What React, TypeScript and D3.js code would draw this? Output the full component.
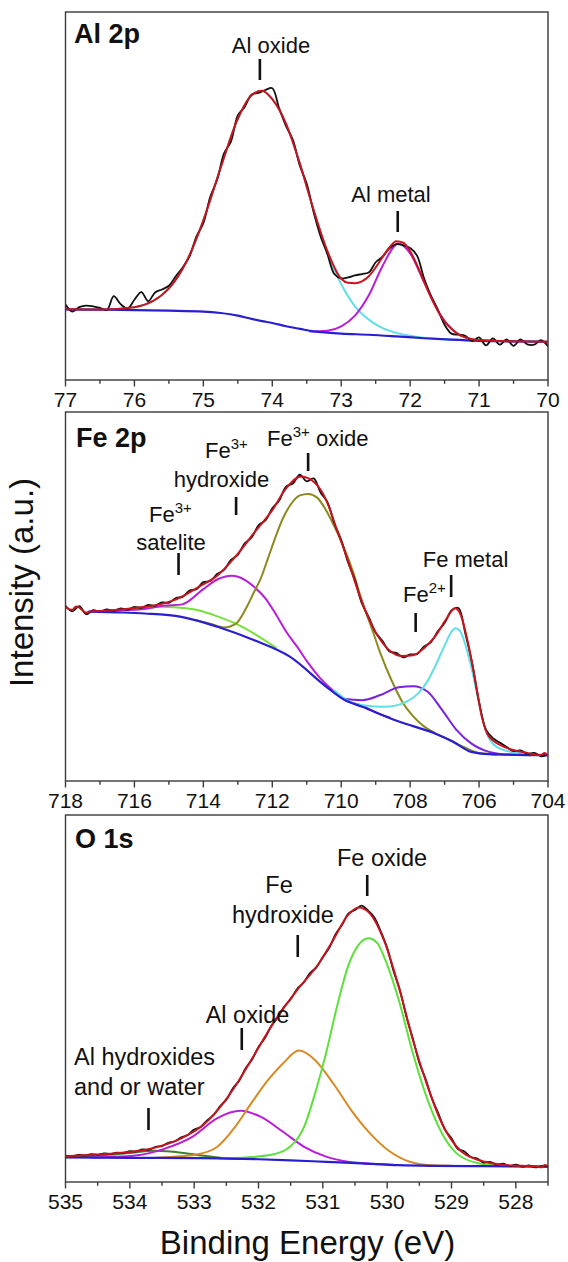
import React from "react";
import * as d3 from "d3";

type Pt = [number, number];

// ---------------- Al 2p ----------------
const alMajorTicks = [77, 76, 75, 74, 73, 72, 71, 70];
const alMinorTicks = [76.5, 75.5, 74.5, 73.5, 72.5, 71.5, 70.5];
const alData: Pt[] = [
  [77.0, 20.5], [76.9, 18.6], [76.8, 19.8], [76.7, 20.2], [76.6, 20.0], [76.5, 19.6], [76.4, 19.0], [76.3, 22.8],
  [76.2, 20.6], [76.1, 19.4], [76.0, 21.8], [75.9, 23.9], [75.8, 21.4], [75.7, 23.8], [75.6, 24.6], [75.5, 25.6],
  [75.4, 28.2], [75.3, 30.6], [75.2, 33.6], [75.1, 39.0], [75.0, 42.6], [74.9, 49.8], [74.8, 54.4], [74.7, 61.6],
  [74.6, 64.8], [74.5, 71.9], [74.4, 74.2], [74.3, 77.6], [74.2, 78.0], [74.1, 78.8], [74.0, 79.3], [73.9, 73.8],
  [73.8, 69.0], [73.7, 65.2], [73.6, 58.2], [73.5, 53.3], [73.4, 45.6], [73.3, 39.1], [73.2, 34.2], [73.1, 28.8],
  [73.0, 27.6], [72.9, 27.9], [72.8, 28.4], [72.7, 28.8], [72.6, 29.2], [72.5, 32.0], [72.4, 33.5], [72.3, 35.8],
  [72.2, 36.9], [72.1, 36.6], [72.0, 35.9], [71.9, 33.8], [71.8, 27.7], [71.7, 23.0], [71.6, 19.2], [71.5, 15.0],
  [71.4, 12.6], [71.3, 12.3], [71.2, 12.0], [71.1, 10.6], [71.0, 11.6], [70.9, 9.4], [70.8, 11.3], [70.7, 9.6],
  [70.6, 11.0], [70.5, 9.3], [70.4, 11.0], [70.3, 9.7], [70.2, 9.6], [70.1, 10.8], [70.0, 9.2],
];
const alEnvelope: Pt[] = [
  [77, 19.2], [76.5, 19.15], [76, 19.8], [75.5, 24.9], [75.25, 32.0], [75, 43.4], [74.75, 57.6], [74.5, 71.0],
  [74.3, 77.4], [74.15, 78.6], [74, 76.3], [73.8, 69.6], [73.6, 58.8], [73.4, 46.2], [73.2, 35.0], [73.0, 27.5],
  [72.9, 26.4], [72.8, 26.3], [72.7, 26.8], [72.6, 28.2], [72.5, 30.6], [72.4, 33.4], [72.3, 36.0], [72.2, 37.7],
  [72.1, 37.3], [72.0, 35.0], [71.9, 31.2], [71.8, 26.8], [71.7, 22.6], [71.6, 18.9], [71.5, 15.9], [71.4, 13.9],
  [71.3, 12.4], [71.2, 11.6], [71.1, 11.1], [71.0, 10.8], [70.5, 10.5], [70.0, 10.4],
];
const alBackground: Pt[] = [
  [77, 19.2], [76.5, 19.1], [76, 19.0], [75.5, 18.85], [75, 18.6], [74.75, 18.2], [74.5, 17.5], [74.3, 16.6],
  [74.15, 16.0], [74, 15.5], [73.8, 14.6], [73.6, 13.9], [73.4, 13.2], [73.2, 12.85], [73, 12.6], [72.6, 12.3],
  [72.2, 11.85], [71.8, 11.35], [71.4, 10.95], [71, 10.65], [70.5, 10.5], [70, 10.4],
];
const alOxidePeak: Pt[] = [
  [77, 19.2], [76.5, 19.15], [76, 19.8], [75.5, 24.9], [75.25, 32.0], [75, 43.4], [74.75, 57.6], [74.5, 71.0],
  [74.3, 77.4], [74.15, 78.6], [74, 76.3], [73.8, 69.6], [73.6, 58.8], [73.4, 46.1], [73.2, 34.5], [73, 26.0],
  [72.8, 20.0], [72.6, 16.4], [72.4, 14.1], [72.2, 12.8], [72, 12.0], [71.8, 11.5], [71.5, 11.1], [71, 10.7],
  [70.5, 10.5], [70, 10.4],
];
const alMetalPeak: Pt[] = [
  [73.45, 13.2], [73.2, 13.4], [73.0, 14.6], [72.8, 17.5], [72.6, 23.0], [72.4, 31.0], [72.17, 37.1], [72.0, 34.4],
  [71.8, 26.7], [71.6, 18.9], [71.4, 13.9], [71.2, 11.6], [71.0, 10.8], [70.5, 10.5],
];

// ---------------- Fe 2p ----------------
const feMajorTicks = [718, 716, 714, 712, 710, 708, 706, 704];
const feMinorTicks = [717, 715, 713, 711, 709, 707, 705];
const feData: Pt[] = [
  [718.0, 47.5], [717.8, 46.0], [717.6, 47.4], [717.4, 45.2], [717.2, 46.3], [717.0, 45.9], [716.8, 46.5], [716.6, 46.1],
  [716.4, 46.8], [716.2, 46.4], [716.0, 47.2], [715.8, 46.9], [715.6, 47.7], [715.4, 47.5], [715.2, 48.4], [715.0, 48.3],
  [714.8, 49.6], [714.6, 49.9], [714.4, 51.6], [714.2, 52.0], [714.0, 53.9], [713.8, 54.2], [713.6, 56.1], [713.4, 57.2],
  [713.2, 59.9], [713.0, 61.3], [712.8, 64.4], [712.6, 66.0], [712.4, 69.3], [712.2, 70.6], [712.0, 73.9], [711.8, 76.0],
  [711.6, 79.8], [711.4, 80.6], [711.2, 83.0], [711.0, 81.2], [710.8, 82.0], [710.6, 78.2], [710.4, 75.6], [710.2, 69.8],
  [710.0, 65.3], [709.8, 59.2], [709.6, 54.4], [709.4, 48.1], [709.2, 44.4], [709.0, 40.2], [708.8, 37.9], [708.6, 35.1],
  [708.4, 34.7], [708.2, 33.5], [708.0, 34.3], [707.8, 34.4], [707.6, 36.4], [707.4, 37.6], [707.2, 40.5], [707.0, 42.8],
  [706.8, 46.2], [706.6, 46.9], [706.4, 40.0], [706.2, 31.9], [706.0, 21.4], [705.8, 13.9], [705.6, 11.6], [705.4, 10.4],
  [705.2, 9.2], [705.0, 8.1], [704.8, 8.3], [704.6, 7.4], [704.4, 7.6], [704.2, 6.7], [704.0, 7.1],
];
const feEnvelope: Pt[] = [
  [718.0, 47.2], [717.9, 46.6], [717.8, 46.4], [717.7, 47.3], [717.6, 47.0], [717.5, 46.2], [717.4, 45.6], [717.3, 45.9],
  [717.0, 46.1], [716.4, 46.5], [715.7, 47.2], [715.2, 48.0], [714.85, 49.0], [714.5, 50.6], [714.12, 52.7], [713.59, 55.7],
  [713.07, 60.8], [712.54, 67.1], [712.0, 73.4], [711.6, 79.3], [711.17, 82.5], [710.75, 80.7], [710.44, 76.2], [710.12, 68.0],
  [709.81, 59.9], [709.49, 50.9], [709.18, 43.6], [708.86, 38.2], [708.55, 35.0], [708.23, 33.9], [707.91, 34.1], [707.6, 36.0],
  [707.28, 39.1], [706.97, 43.6], [706.7, 46.8], [706.55, 45.4], [706.34, 38.2], [706.13, 28.3], [705.92, 17.4], [705.71, 12.0],
  [705.18, 8.9], [704.66, 7.7], [704.2, 7.0], [704.1, 7.6], [704.0, 6.8],
];
const feBackground: Pt[] = [
  [717.32, 45.9], [716.5, 45.7], [715.7, 45.4], [714.64, 44.5], [713.59, 41.8], [712.54, 38.2], [711.49, 33.7], [710.44, 25.6],
  [709.91, 22.0], [709.39, 20.1], [708.33, 16.1], [707.28, 12.9], [706.76, 10.7], [706.23, 7.9], [705.71, 7.3], [704.0, 7.0],
];
const feOxidePeak: Pt[] = [
  [714.2, 43.6], [713.8, 42.6], [713.4, 41.6], [713.07, 42.5], [712.75, 47.0], [712.54, 51.0], [712.33, 55.0], [712.1, 61.0],
  [711.91, 66.0], [711.7, 71.0], [711.49, 74.6], [711.2, 77.4], [710.96, 77.8], [710.7, 76.8], [710.44, 73.4], [710.2, 69.0],
  [709.91, 63.0], [709.65, 56.5], [709.39, 48.5], [709.1, 41.0], [708.86, 34.5], [708.55, 27.5], [708.23, 21.5], [707.91, 17.5],
  [707.6, 14.8], [707.28, 13.0], [706.97, 11.6], [706.7, 10.3], [706.4, 9.0], [706.0, 7.6], [705.5, 7.2],
];
const feHydroxidePeak: Pt[] = [
  [716.5, 46.2], [716.0, 46.4], [715.7, 46.6], [715.17, 47.5], [714.64, 47.8], [714.0, 52.0], [713.6, 54.6], [713.17, 55.6],
  [712.8, 54.5], [712.54, 52.7], [712.2, 49.5], [711.91, 45.4], [711.6, 40.5], [711.28, 36.4], [710.96, 32.0], [710.65, 28.3],
  [710.3, 25.0], [710.02, 22.8], [709.7, 21.2], [709.39, 20.4], [709.0, 18.6], [708.6, 17.2],
];
const feSatellitePeak: Pt[] = [
  [716.8, 46.2], [716.22, 46.5], [715.7, 46.9], [715.2, 47.2], [714.85, 47.1], [714.5, 46.8], [714.12, 46.2], [713.59, 44.6],
  [713.07, 42.7], [712.54, 40.0], [712.2, 38.0], [711.9, 36.2],
];
const feFe2Peak: Pt[] = [
  [710.2, 24.3], [709.91, 22.3], [709.39, 21.9], [708.86, 23.3], [708.33, 25.4], [707.91, 25.7], [707.49, 24.2], [707.07, 19.2],
  [706.65, 13.8], [706.23, 10.2], [705.71, 7.9], [705.2, 7.2], [704.5, 7.0],
];
const feMetalPeak: Pt[] = [
  [710.2, 24.5], [709.91, 22.4], [709.7, 21.3], [709.39, 20.6], [709.0, 20.2], [708.75, 20.1], [708.4, 20.5], [708.1, 21.5],
  [707.76, 23.8], [707.5, 27.0], [707.28, 31.0], [706.97, 37.3], [706.8, 40.5], [706.68, 41.4], [706.55, 40.6], [706.44, 38.2],
  [706.23, 31.0], [706.02, 22.0], [705.81, 13.8], [705.5, 9.3], [704.97, 7.7], [704.0, 7.0],
];

// ---------------- O 1s ----------------
const oMajorTicks = [535, 534, 533, 532, 531, 530, 529, 528];
const oMinorTicks = [534.5, 533.5, 532.5, 531.5, 530.5, 529.5, 528.5, 527.5];
const oData: Pt[] = [
  [535.0, 7.2], [534.9, 7.0], [534.8, 7.4], [534.7, 7.2], [534.6, 7.6], [534.5, 7.4], [534.4, 7.8], [534.3, 7.6],
  [534.2, 8.0], [534.1, 7.9], [534.0, 8.4], [533.9, 8.3], [533.8, 8.9], [533.7, 8.8], [533.6, 9.6], [533.5, 9.8],
  [533.4, 10.7], [533.3, 11.1], [533.2, 12.2], [533.1, 12.8], [533.0, 14.3], [532.9, 15.0], [532.8, 16.8], [532.7, 18.2],
  [532.6, 20.6], [532.5, 22.4], [532.4, 25.5], [532.3, 27.6], [532.2, 31.0], [532.1, 33.4], [532.0, 36.8], [531.9, 39.2],
  [531.8, 42.6], [531.7, 44.8], [531.6, 47.8], [531.5, 49.8], [531.4, 52.6], [531.3, 54.3], [531.2, 56.9], [531.1, 58.5],
  [531.0, 61.3], [530.9, 63.8], [530.8, 67.6], [530.7, 70.1], [530.6, 73.2], [530.5, 74.1], [530.4, 75.3], [530.3, 74.0],
  [530.2, 72.1], [530.1, 68.3], [530.0, 63.8], [529.9, 57.4], [529.8, 52.2], [529.7, 45.0], [529.6, 39.0], [529.5, 32.5],
  [529.4, 27.9], [529.3, 22.6], [529.2, 18.5], [529.1, 14.2], [529.0, 11.9], [528.9, 9.0], [528.8, 8.3], [528.7, 6.8],
  [528.6, 6.4], [528.5, 5.3], [528.4, 5.5], [528.3, 4.7], [528.2, 5.0], [528.1, 4.4], [528.0, 4.7], [527.9, 4.2],
  [527.8, 4.5], [527.7, 4.0], [527.6, 4.3], [527.5, 4.2],
];
const oEnvelope: Pt[] = [
  [535.0, 7.0], [534.5, 7.5], [534.0, 8.2], [533.77, 8.7], [533.5, 9.9], [533.2, 11.9], [532.86, 15.5], [532.53, 21.9],
  [532.3, 27.8], [532.08, 34.2], [531.74, 44.1], [531.4, 52.3], [531.06, 59.6], [530.84, 65.9], [530.61, 72.7], [530.44, 74.8],
  [530.27, 73.2], [530.05, 65.9], [529.82, 53.2], [529.6, 38.7], [529.37, 26.0], [529.15, 16.0], [528.92, 9.6], [528.58, 6.0],
  [528.14, 4.6], [527.68, 4.2], [527.6, 4.0], [527.55, 4.6], [527.5, 4.3],
];
const oBackground: Pt[] = [
  [535, 6.7], [534, 6.6], [533, 6.5], [532.64, 6.45], [532, 6.2], [531.5, 5.9], [530.95, 5.5], [530.4, 5.1],
  [529.82, 4.6], [529.26, 4.4], [528.5, 4.3], [527.5, 4.2],
];
const oFeOxidePeak: Pt[] = [
  [532.6, 6.4], [532.19, 6.7], [531.8, 7.4], [531.51, 9.6], [531.29, 15.1], [531.12, 24.2], [530.95, 35.1], [530.78, 47.8],
  [530.61, 58.7], [530.45, 64.5], [530.29, 66.4], [530.15, 65.0], [530.05, 61.4], [529.82, 49.6], [529.6, 35.1], [529.37, 22.3],
  [529.15, 13.3], [528.92, 7.8], [528.58, 5.1], [528.2, 4.4], [527.5, 4.2],
];
const oFeHydroxidePeak: Pt[] = [
  [533.6, 6.6], [533.32, 6.9], [532.98, 7.4], [532.64, 9.6], [532.36, 15.1], [532.08, 22.3], [531.85, 27.8], [531.62, 32.3],
  [531.37, 35.8], [531.12, 33.2], [530.84, 26.9], [530.56, 19.6], [530.27, 13.3], [529.99, 8.7], [529.65, 5.5], [529.37, 4.6],
  [529.0, 4.4],
];
const oAlOxidePeak: Pt[] = [
  [534.6, 6.65], [534.34, 6.8], [533.88, 7.3], [533.49, 8.9], [533.03, 12.3], [532.64, 17.4], [532.28, 19.4], [531.97, 17.8],
  [531.62, 13.7], [531.29, 9.6], [530.95, 6.9], [530.61, 5.5], [530.27, 5.0], [529.9, 4.7],
];
const oAlHydroxidePeak: Pt[] = [
  [535.0, 6.75], [534.5, 7.2], [534.06, 7.8], [533.61, 8.5], [533.2, 8.0], [532.92, 7.3], [532.53, 6.5], [532.2, 6.3],
];

// ---------------- layout ----------------
const W = 568;
const H = 1262;
const LEFT = 65.5;
const RIGHT = 548;
const FONT = "Arial, 'Liberation Sans', Helvetica, sans-serif";

const COLORS = {
  data: "#111111",
  fit: "#c8141e",
  bg: "#2a1fd0",
  cyan: "#5fe0e6",
  magenta: "#b81ed8",
  olive: "#8c8a1e",
  lime: "#78e03a",
  violet: "#7a22e0",
  green: "#5ee03a",
  orange: "#d88a22",
  darkGreen: "#3e7e2e",
};

type Curve = { pts: Pt[]; color: string; width?: number };

function Panel(props: {
  top: number;
  bottom: number;
  domain: [number, number];
  major: number[];
  minor: number[];
  curves: Curve[];
  data: Pt[];
  envelope: Pt[];
  background: Pt[];
  id: string;
  children?: (x: d3.ScaleLinear<number, number>) => React.ReactNode;
}) {
  const { top, bottom, domain, major, minor, curves, data, envelope, background, id } = props;
  const x = d3.scaleLinear().domain(domain).range([LEFT, RIGHT]);
  const y = d3.scaleLinear().domain([0, 100]).range([bottom, top]);
  const smooth = d3
    .line<Pt>()
    .x((d) => x(d[0]))
    .y((d) => y(d[1]))
    .curve(d3.curveMonotoneX);
  const jag = d3
    .line<Pt>()
    .x((d) => x(d[0]))
    .y((d) => y(d[1]))
    .curve(d3.curveCatmullRom.alpha(0.5));
  return (
    <g>
      <defs>
        <clipPath id={id}>
          <rect x={LEFT} y={top} width={RIGHT - LEFT} height={bottom - top} />
        </clipPath>
      </defs>
      <g clipPath={`url(#${id})`} fill="none" strokeLinejoin="round" strokeLinecap="round">
        {curves.map((c, i) => (
          <path key={i} d={smooth(c.pts) || ""} stroke={c.color} strokeWidth={c.width ?? 2} />
        ))}
        <path d={smooth(background) || ""} stroke={COLORS.bg} strokeWidth={2.2} />
        <path d={jag(data) || ""} stroke={COLORS.data} strokeWidth={1.8} />
        <path d={smooth(envelope) || ""} stroke={COLORS.fit} strokeWidth={2} />
      </g>
      <rect x={LEFT} y={top} width={RIGHT - LEFT} height={bottom - top} fill="none" stroke="#3a3a3a" strokeWidth={1.4} />
      {major.map((t) => (
        <g key={"M" + t}>
          <line x1={x(t)} x2={x(t)} y1={bottom} y2={bottom + 6.5} stroke="#3a3a3a" strokeWidth={1.4} />
          <text x={x(t)} y={bottom + 27} textAnchor="middle" fontSize={21} fontFamily={FONT} fill="#111">
            {t}
          </text>
        </g>
      ))}
      {minor.map((t) => (
        <line key={"m" + t} x1={x(t)} x2={x(t)} y1={bottom} y2={bottom + 3.8} stroke="#3a3a3a" strokeWidth={1.4} />
      ))}
      {props.children ? props.children(x) : null}
    </g>
  );
}

function Tick({ x, y1, y2 }: { x: number; y1: number; y2: number }) {
  return <line x1={x} x2={x} y1={y1} y2={y2} stroke="#111" strokeWidth={2.6} />;
}

export default function App() {
  const t = { fontFamily: FONT, fill: "#111" };
  return (
    <svg width={W} height={H} style={{ position: "absolute", left: 0, top: 0, background: "#fff" }}>
      <rect x={0} y={0} width={W} height={H} fill="#fff" />
      {/* Al 2p */}
      <Panel
        id="clipAl"
        top={12}
        bottom={380}
        domain={[77, 70]}
        major={alMajorTicks}
        minor={alMinorTicks}
        data={alData}
        envelope={alEnvelope}
        background={alBackground}
        curves={[
          { pts: alOxidePeak, color: COLORS.cyan },
          { pts: alMetalPeak, color: COLORS.magenta },
        ]}
      >
        {(x) => (
          <g>
            <text x={74} y={42.5} fontSize={27} fontWeight="bold" {...t}>Al 2p</text>
            <text x={271} y={53} fontSize={22} textAnchor="middle" {...t}>Al oxide</text>
            <Tick x={x(74.18)} y1={59} y2={80} />
            <text x={391} y={202} fontSize={22} textAnchor="middle" {...t}>Al metal</text>
            <Tick x={x(72.18)} y1={211} y2={232} />
          </g>
        )}
      </Panel>

      {/* Fe 2p */}
      <Panel
        id="clipFe"
        top={412}
        bottom={781}
        domain={[718, 704]}
        major={feMajorTicks}
        minor={feMinorTicks}
        data={feData}
        envelope={feEnvelope}
        background={feBackground}
        curves={[
          { pts: feSatellitePeak, color: COLORS.lime },
          { pts: feHydroxidePeak, color: COLORS.magenta },
          { pts: feOxidePeak, color: COLORS.olive },
          { pts: feFe2Peak, color: COLORS.violet },
          { pts: feMetalPeak, color: COLORS.cyan },
        ]}
      >
        {(x) => (
          <g>
            <text x={76} y={446.5} fontSize={27} fontWeight="bold" {...t}>Fe 2p</text>
            <text x={267} y={445.5} fontSize={22} {...t}>
              Fe<tspan dy={-9} fontSize={15}>3+</tspan>
              <tspan dy={9}> oxide</tspan>
            </text>
            <Tick x={x(710.96)} y1={453} y2={471} />
            <text x={205} y={458} fontSize={22} {...t}>
              Fe<tspan dy={-9} fontSize={15}>3+</tspan>
            </text>
            <text x={221.5} y={486.5} fontSize={22} textAnchor="middle" {...t}>hydroxide</text>
            <Tick x={x(713.05)} y1={497} y2={515} />
            <text x={149} y={521.5} fontSize={22} {...t}>
              Fe<tspan dy={-9} fontSize={15}>3+</tspan>
            </text>
            <text x={171} y={550} fontSize={22} textAnchor="middle" {...t}>satelite</text>
            <Tick x={x(714.72)} y1={553} y2={575} />
            <text x={465.5} y={566.5} fontSize={22} textAnchor="middle" {...t}>Fe metal</text>
            <Tick x={x(706.81)} y1={575} y2={597} />
            <text x={403} y={602} fontSize={22} {...t}>
              Fe<tspan dy={-9} fontSize={15}>2+</tspan>
            </text>
            <Tick x={x(707.84)} y1={613} y2={632} />
          </g>
        )}
      </Panel>

      {/* O 1s */}
      <Panel
        id="clipO"
        top={815}
        bottom={1182}
        domain={[535, 527.5]}
        major={oMajorTicks}
        minor={oMinorTicks}
        data={oData}
        envelope={oEnvelope}
        background={oBackground}
        curves={[
          { pts: oAlHydroxidePeak, color: COLORS.darkGreen },
          { pts: oAlOxidePeak, color: COLORS.magenta },
          { pts: oFeHydroxidePeak, color: COLORS.orange },
          { pts: oFeOxidePeak, color: COLORS.green },
        ]}
      >
        {(x) => (
          <g>
            <text x={75} y={848} fontSize={27} fontWeight="bold" {...t}>O 1s</text>
            <text x={382} y={865.5} fontSize={23.5} textAnchor="middle" {...t}>Fe oxide</text>
            <Tick x={x(530.31)} y1={875} y2={896} />
            <text x={279} y={893} fontSize={23.5} textAnchor="middle" {...t}>Fe</text>
            <text x={283} y={923} fontSize={23.5} textAnchor="middle" {...t}>hydroxide</text>
            <Tick x={x(531.39)} y1={935} y2={957} />
            <text x={247.5} y={1022.5} fontSize={23.5} textAnchor="middle" {...t}>Al oxide</text>
            <Tick x={x(532.26)} y1={1028} y2={1050} />
            <text x={74} y={1065} fontSize={23.5} {...t}>Al hydroxides</text>
            <text x={74} y={1095} fontSize={23.5} {...t}>and or water</text>
            <Tick x={x(533.71)} y1={1108} y2={1130} />
          </g>
        )}
      </Panel>

      <text
        transform="translate(33,582.5) rotate(-90)"
        textAnchor="middle"
        fontSize={33}
        {...t}
      >
        Intensity (a.u.)
      </text>
      <text x={307.5} y={1254} textAnchor="middle" fontSize={33} {...t}>
        Binding Energy (eV)
      </text>
    </svg>
  );
}
